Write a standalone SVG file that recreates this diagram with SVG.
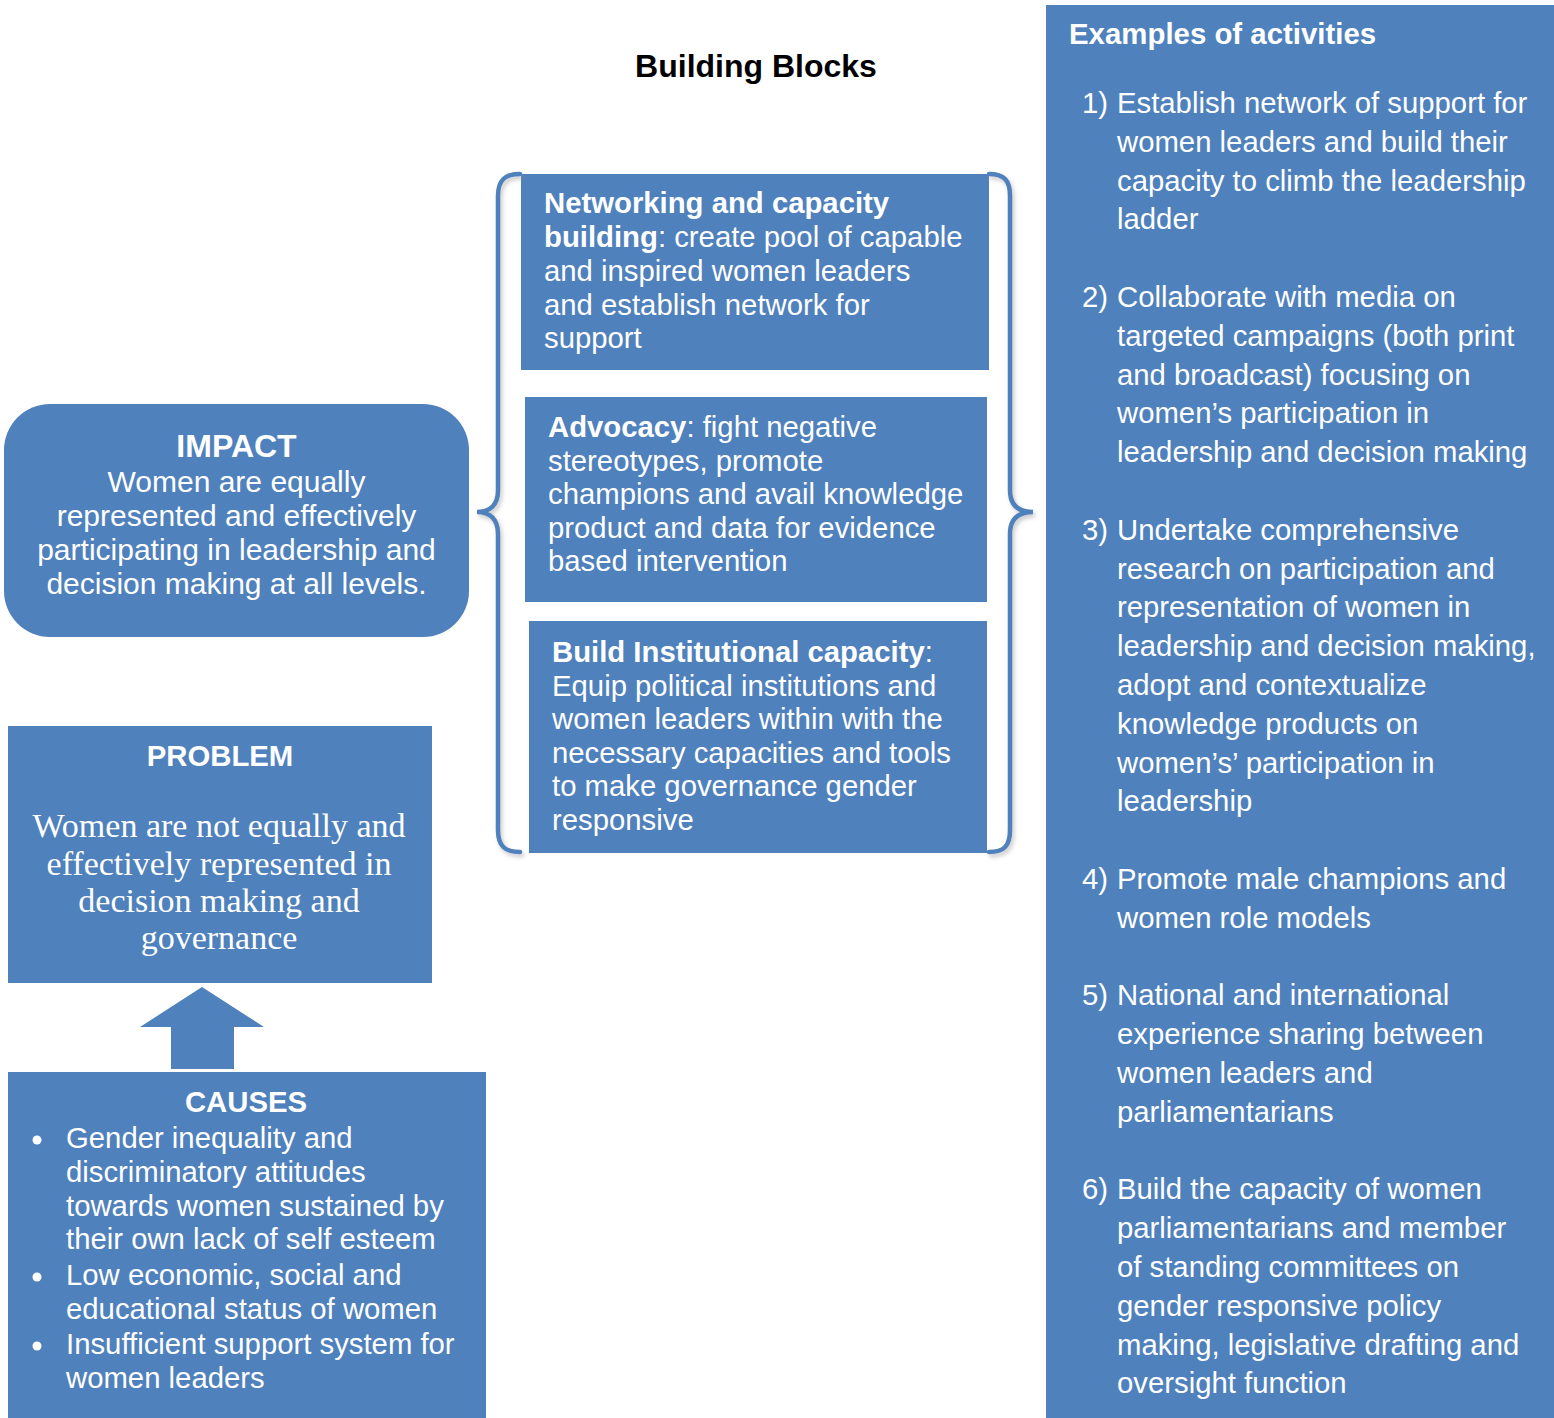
<svg xmlns="http://www.w3.org/2000/svg" width="1554" height="1418" viewBox="0 0 1554 1418">
<style>
.box{fill:#4F81BD}
.t{font-family:"Liberation Sans",Arial,sans-serif;font-size:29.3px;fill:#fff}
.b{font-weight:bold}
.c{text-anchor:middle}
.serif{font-family:"Liberation Serif","Times New Roman",serif;font-size:34px;fill:#fff}
.title{font-family:"Liberation Sans",Arial,sans-serif;font-size:32px;font-weight:bold;fill:#000}
.brace{fill:none;stroke:#4F81BD;stroke-width:4.5;stroke-linecap:round}
</style>
<defs>
<filter id="sh" x="-20%" y="-5%" width="140%" height="110%">
<feDropShadow dx="2" dy="3" stdDeviation="2" flood-color="#888" flood-opacity="0.45"/>
</filter>
</defs>
<rect width="1554" height="1418" fill="#fff"/>

<text id="title" class="title c" x="756" y="77">Building Blocks</text>

<g id="activities">
<rect class="box" x="1046" y="5" width="508" height="1413"/>
<text class="t b" x="1069" y="44" style="font-size:29.4px">Examples of activities</text>
<g class="t">
<text x="1082" y="113">1)</text>
<text x="1117" y="113">Establish network of support for</text>
<text x="1117" y="151.8">women leaders and build their</text>
<text x="1117" y="190.6">capacity to climb the leadership</text>
<text x="1117" y="229.4">ladder</text>
<text x="1082" y="307">2)</text>
<text x="1117" y="307">Collaborate with media on</text>
<text x="1117" y="345.8">targeted campaigns (both print</text>
<text x="1117" y="384.6">and broadcast) focusing on</text>
<text x="1117" y="423.4">women’s participation in</text>
<text x="1117" y="462.2">leadership and decision making</text>
<text x="1082" y="539.8">3)</text>
<text x="1117" y="539.8">Undertake comprehensive</text>
<text x="1117" y="578.6">research on participation and</text>
<text x="1117" y="617.4">representation of women in</text>
<text x="1117" y="656.2">leadership and decision making,</text>
<text x="1117" y="695">adopt and contextualize</text>
<text x="1117" y="733.8">knowledge products on</text>
<text x="1117" y="772.6">women’s’ participation in</text>
<text x="1117" y="811.4">leadership</text>
<text x="1082" y="889">4)</text>
<text x="1117" y="889">Promote male champions and</text>
<text x="1117" y="927.8">women role models</text>
<text x="1082" y="1005.4">5)</text>
<text x="1117" y="1005.4">National and international</text>
<text x="1117" y="1044.2">experience sharing between</text>
<text x="1117" y="1083">women leaders and</text>
<text x="1117" y="1121.8">parliamentarians</text>
<text x="1082" y="1199.4">6)</text>
<text x="1117" y="1199.4">Build the capacity of women</text>
<text x="1117" y="1238.2">parliamentarians and member</text>
<text x="1117" y="1277">of standing committees on</text>
<text x="1117" y="1315.8">gender responsive policy</text>
<text x="1117" y="1354.6">making, legislative drafting and</text>
<text x="1117" y="1393.4">oversight function</text>
</g>
</g>

<g id="networking">
<rect class="box" x="521" y="174" width="468" height="196"/>
<text class="t" x="544" y="213"><tspan class="b">Networking and capacity</tspan></text>
<text class="t" x="544" y="247"><tspan class="b">building</tspan>: create pool of capable</text>
<text class="t" x="544" y="280.5">and inspired women leaders</text>
<text class="t" x="544" y="314.5">and establish network for</text>
<text class="t" x="544" y="348">support</text>
</g>

<g id="advocacy">
<rect class="box" x="525" y="397" width="462" height="205"/>
<text class="t" x="548" y="437"><tspan class="b">Advocacy</tspan>: fight negative</text>
<text class="t" x="548" y="470.5">stereotypes, promote</text>
<text class="t" x="548" y="504">champions and avail knowledge</text>
<text class="t" x="548" y="538">product and data for evidence</text>
<text class="t" x="548" y="571">based intervention</text>
</g>

<g id="institutional">
<rect class="box" x="529" y="621" width="458" height="232"/>
<text class="t" x="552" y="662"><tspan class="b">Build Institutional capacity</tspan>:</text>
<text class="t" x="552" y="695.5">Equip political institutions and</text>
<text class="t" x="552" y="729">women leaders within with the</text>
<text class="t" x="552" y="762.5">necessary capacities and tools</text>
<text class="t" x="552" y="796">to make governance gender</text>
<text class="t" x="552" y="829.5">responsive</text>
</g>

<g id="impact">
<rect class="box" x="4" y="404" width="465" height="233" rx="46" ry="46"/>
<text class="t b c" x="236.5" y="457" style="font-size:32px">IMPACT</text>
<text class="t c" x="236.5" y="492" style="font-size:30px">Women are equally</text>
<text class="t c" x="236.5" y="526" style="font-size:30px">represented and effectively</text>
<text class="t c" x="236.5" y="560" style="font-size:30px">participating in leadership and</text>
<text class="t c" x="236.5" y="594" style="font-size:30px">decision making at all levels.</text>
</g>

<g id="problem">
<rect class="box" x="8" y="726" width="424" height="257"/>
<text class="t b c" x="220" y="766">PROBLEM</text>
<text class="serif c" x="219" y="837">Women are not equally and</text>
<text class="serif c" x="219" y="874.5">effectively represented in</text>
<text class="serif c" x="219" y="912">decision making and</text>
<text class="serif c" x="219" y="949">governance</text>
</g>

<g id="causes">
<rect class="box" x="8" y="1072" width="478" height="346"/>
<text class="t b c" x="246" y="1112">CAUSES</text>
<circle cx="37" cy="1140" r="4.5" fill="#fff"/>
<circle cx="37" cy="1277" r="4.5" fill="#fff"/>
<circle cx="37" cy="1346" r="4.5" fill="#fff"/>
<text class="t" x="66" y="1148">Gender inequality and</text>
<text class="t" x="66" y="1182">discriminatory attitudes</text>
<text class="t" x="66" y="1215.5">towards women sustained by</text>
<text class="t" x="66" y="1249">their own lack of self esteem</text>
<text class="t" x="66" y="1285">Low economic, social and</text>
<text class="t" x="66" y="1318.5">educational status of women</text>
<text class="t" x="66" y="1353.5">Insufficient support system for</text>
<text class="t" x="66" y="1387.5">women leaders</text>
</g>

<g id="connectors">
<polygon class="box" points="202,987 264,1027 234,1027 234,1069 171,1069 171,1027 140,1027"/>
<g filter="url(#sh)">
<path class="brace" d="M520,174 C505,174 498,180 498,196 L498,490 C498,505 490,512 477,512 C490,512 498,519 498,534 L498,830 C498,846 505,852 520,852"/>
<path class="brace" d="M989,174 C1004,174 1010,180 1010,196 L1010,490 C1010,505 1018,512 1033,512 C1018,512 1010,519 1010,534 L1010,830 C1010,846 1004,852 989,852"/>
</g>
</g>
</svg>
